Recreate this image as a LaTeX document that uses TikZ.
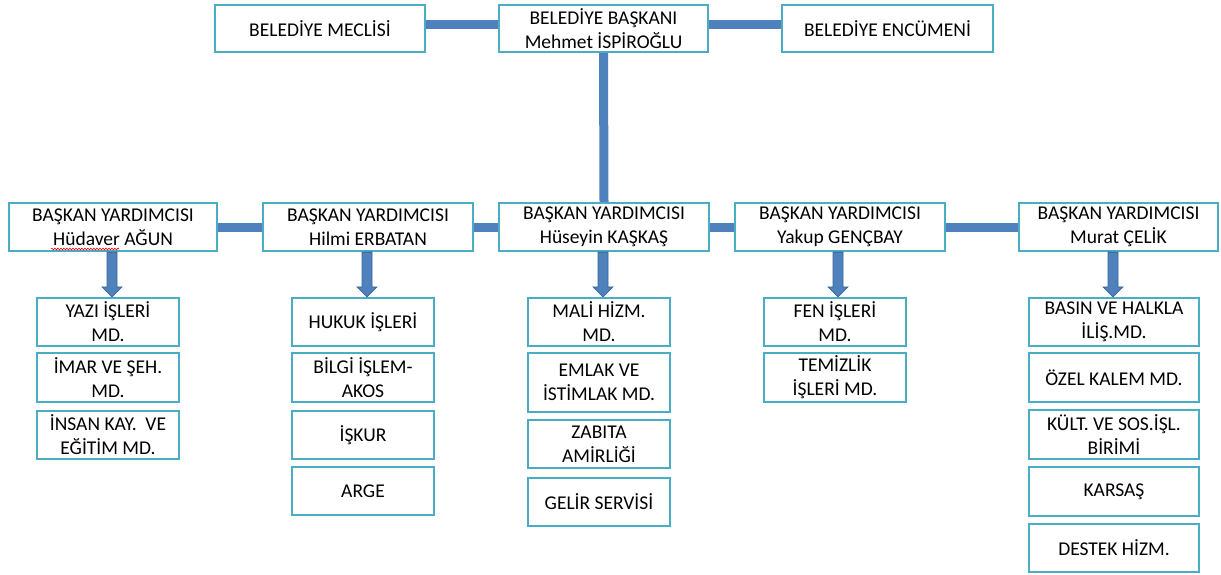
\documentclass[tikz,border=0pt]{standalone}
\usepackage{fontspec}
\setmainfont{Carlito}
\usetikzlibrary{calc,decorations.pathmorphing}
\definecolor{boxline}{HTML}{4BACC6}
\definecolor{conncol}{HTML}{4F81BD}
\definecolor{arrline}{HTML}{3A6596}
\tikzset{
  box/.style={draw=boxline, line width=2.2pt, fill=white, align=center, inner sep=0pt,
    font=\fontsize{19.5}{24}\selectfont, text=black},
  conn/.style={draw=conncol, line width=9pt},
  barrow/.style={fill=conncol, draw=arrline, line width=0.8pt, line join=miter},
}
\newcommand\bx[6]{\node[box, minimum width={(#4-#2)*1pt}, minimum height={(#5-#3)*1pt}] (#1) at ({(#2+#4)/2},{(#3+#5)/2}) {#6};}
\newcommand\blockarrow[3]{%
  \draw[barrow] let \p1=($(#1.south)+(#3,0)$), \p2=(#2.north) in
    (\x1-5,\y1) -- (\x1-5,\y2+10) -- (\x1-10,\y2+10) -- (\x1,\y2) -- (\x1+10,\y2+10) -- (\x1+5,\y2+10) -- (\x1+5,\y1) -- cycle;}
\begin{document}
\begin{tikzpicture}[x=1pt,y=-1pt]
\useasboundingbox (0,0) rectangle (1221,574);
% top row
\bx{meclis}{215}{5}{425}{52}{BELEDİYE MECLİSİ}
\bx{baskan}{499}{5}{708}{52}{BELEDİYE BAŞKANI\\Mehmet İSPİROĞLU}
\bx{encumen}{782}{5}{993}{52}{BELEDİYE ENCÜMENİ}
% second row
\bx{ya}{9}{203}{217}{251}{BAŞKAN YARDIMCISI\\Hüdaver AĞUN}
\bx{yb}{263}{203}{473}{251}{BAŞKAN YARDIMCISI\\Hilmi ERBATAN}
\bx{yc}{499}{203}{709}{251}{BAŞKAN YARDIMCISI\\Hüseyin KAŞKAŞ}
\bx{yd}{735}{203}{945}{251}{BAŞKAN YARDIMCISI\\Yakup GENÇBAY}
\bx{ye}{1019}{203}{1218}{251}{BAŞKAN YARDIMCISI\\Murat ÇELİK}
% connectors
\draw[conn] ([yshift=4pt]meclis.east) -- ([yshift=4pt]baskan.west);
\draw[conn] ([yshift=4pt]baskan.east) -- ([yshift=4pt]encumen.west);
\draw[conn] (baskan.south) -- (yc.north);
\draw[conn] (ya.east) -- (yb.west);
\draw[conn] (yb.east) -- (yc.west);
\draw[conn] (yc.east) -- (yd.west);
\draw[conn] (yd.east) -- (ye.west);
% column 1
\bx{a1}{37}{298}{179}{346}{YAZI İŞLERİ\\MD.}
\bx{a2}{37}{353}{179}{402}{İMAR VE ŞEH.\\MD.}
\bx{a3}{37}{411}{179}{459}{İNSAN KAY.\ \ VE\\EĞİTİM MD.}
% column 2
\bx{b1}{292}{298}{434}{346}{HUKUK İŞLERİ}
\bx{b2}{292}{353}{434}{402}{BİLGİ İŞLEM-\\AKOS}
\bx{b3}{292}{411}{434}{459}{İŞKUR}
\bx{b4}{292}{467}{434}{515}{ARGE}
% column 3
\bx{c1}{528}{298}{670}{346}{MALİ HİZM.\\MD.}
\bx{c2}{528}{353}{670}{412}{EMLAK VE\\İSTİMLAK MD.}
\bx{c3}{528}{420}{670}{468}{ZABITA\\AMİRLİĞİ}
\bx{c4}{528}{478}{670}{526}{GELİR SERVİSİ}
% column 4
\bx{d1}{764}{298}{906}{346}{FEN İŞLERİ\\MD.}
\bx{d2}{764}{353}{906}{402}{TEMİZLİK\\İŞLERİ MD.}
% column 5
\bx{e1}{1029}{298}{1199}{346}{BASIN VE HALKLA\\İLİŞ.MD.}
\bx{e2}{1029}{353}{1199}{402}{ÖZEL KALEM MD.}
\bx{e3}{1029}{410}{1199}{459}{KÜLT. VE SOS.İŞL.\\BİRİMİ}
\bx{e4}{1029}{467}{1199}{516}{KARSAŞ}
\bx{e5}{1029}{524}{1199}{572}{DESTEK HİZM.}
% block arrows
\blockarrow{ya}{a1}{-1}
\blockarrow{yb}{b1}{-1}
\blockarrow{yc}{c1}{-1}
\blockarrow{yd}{d1}{-2}
\blockarrow{ye}{e1}{-5.5}
% spell-check underline
\draw[red, line width=0.6pt, decorate, decoration={snake, amplitude=0.9pt, segment length=3pt}] (51,249) -- (119,249);
\end{tikzpicture}
\end{document}
